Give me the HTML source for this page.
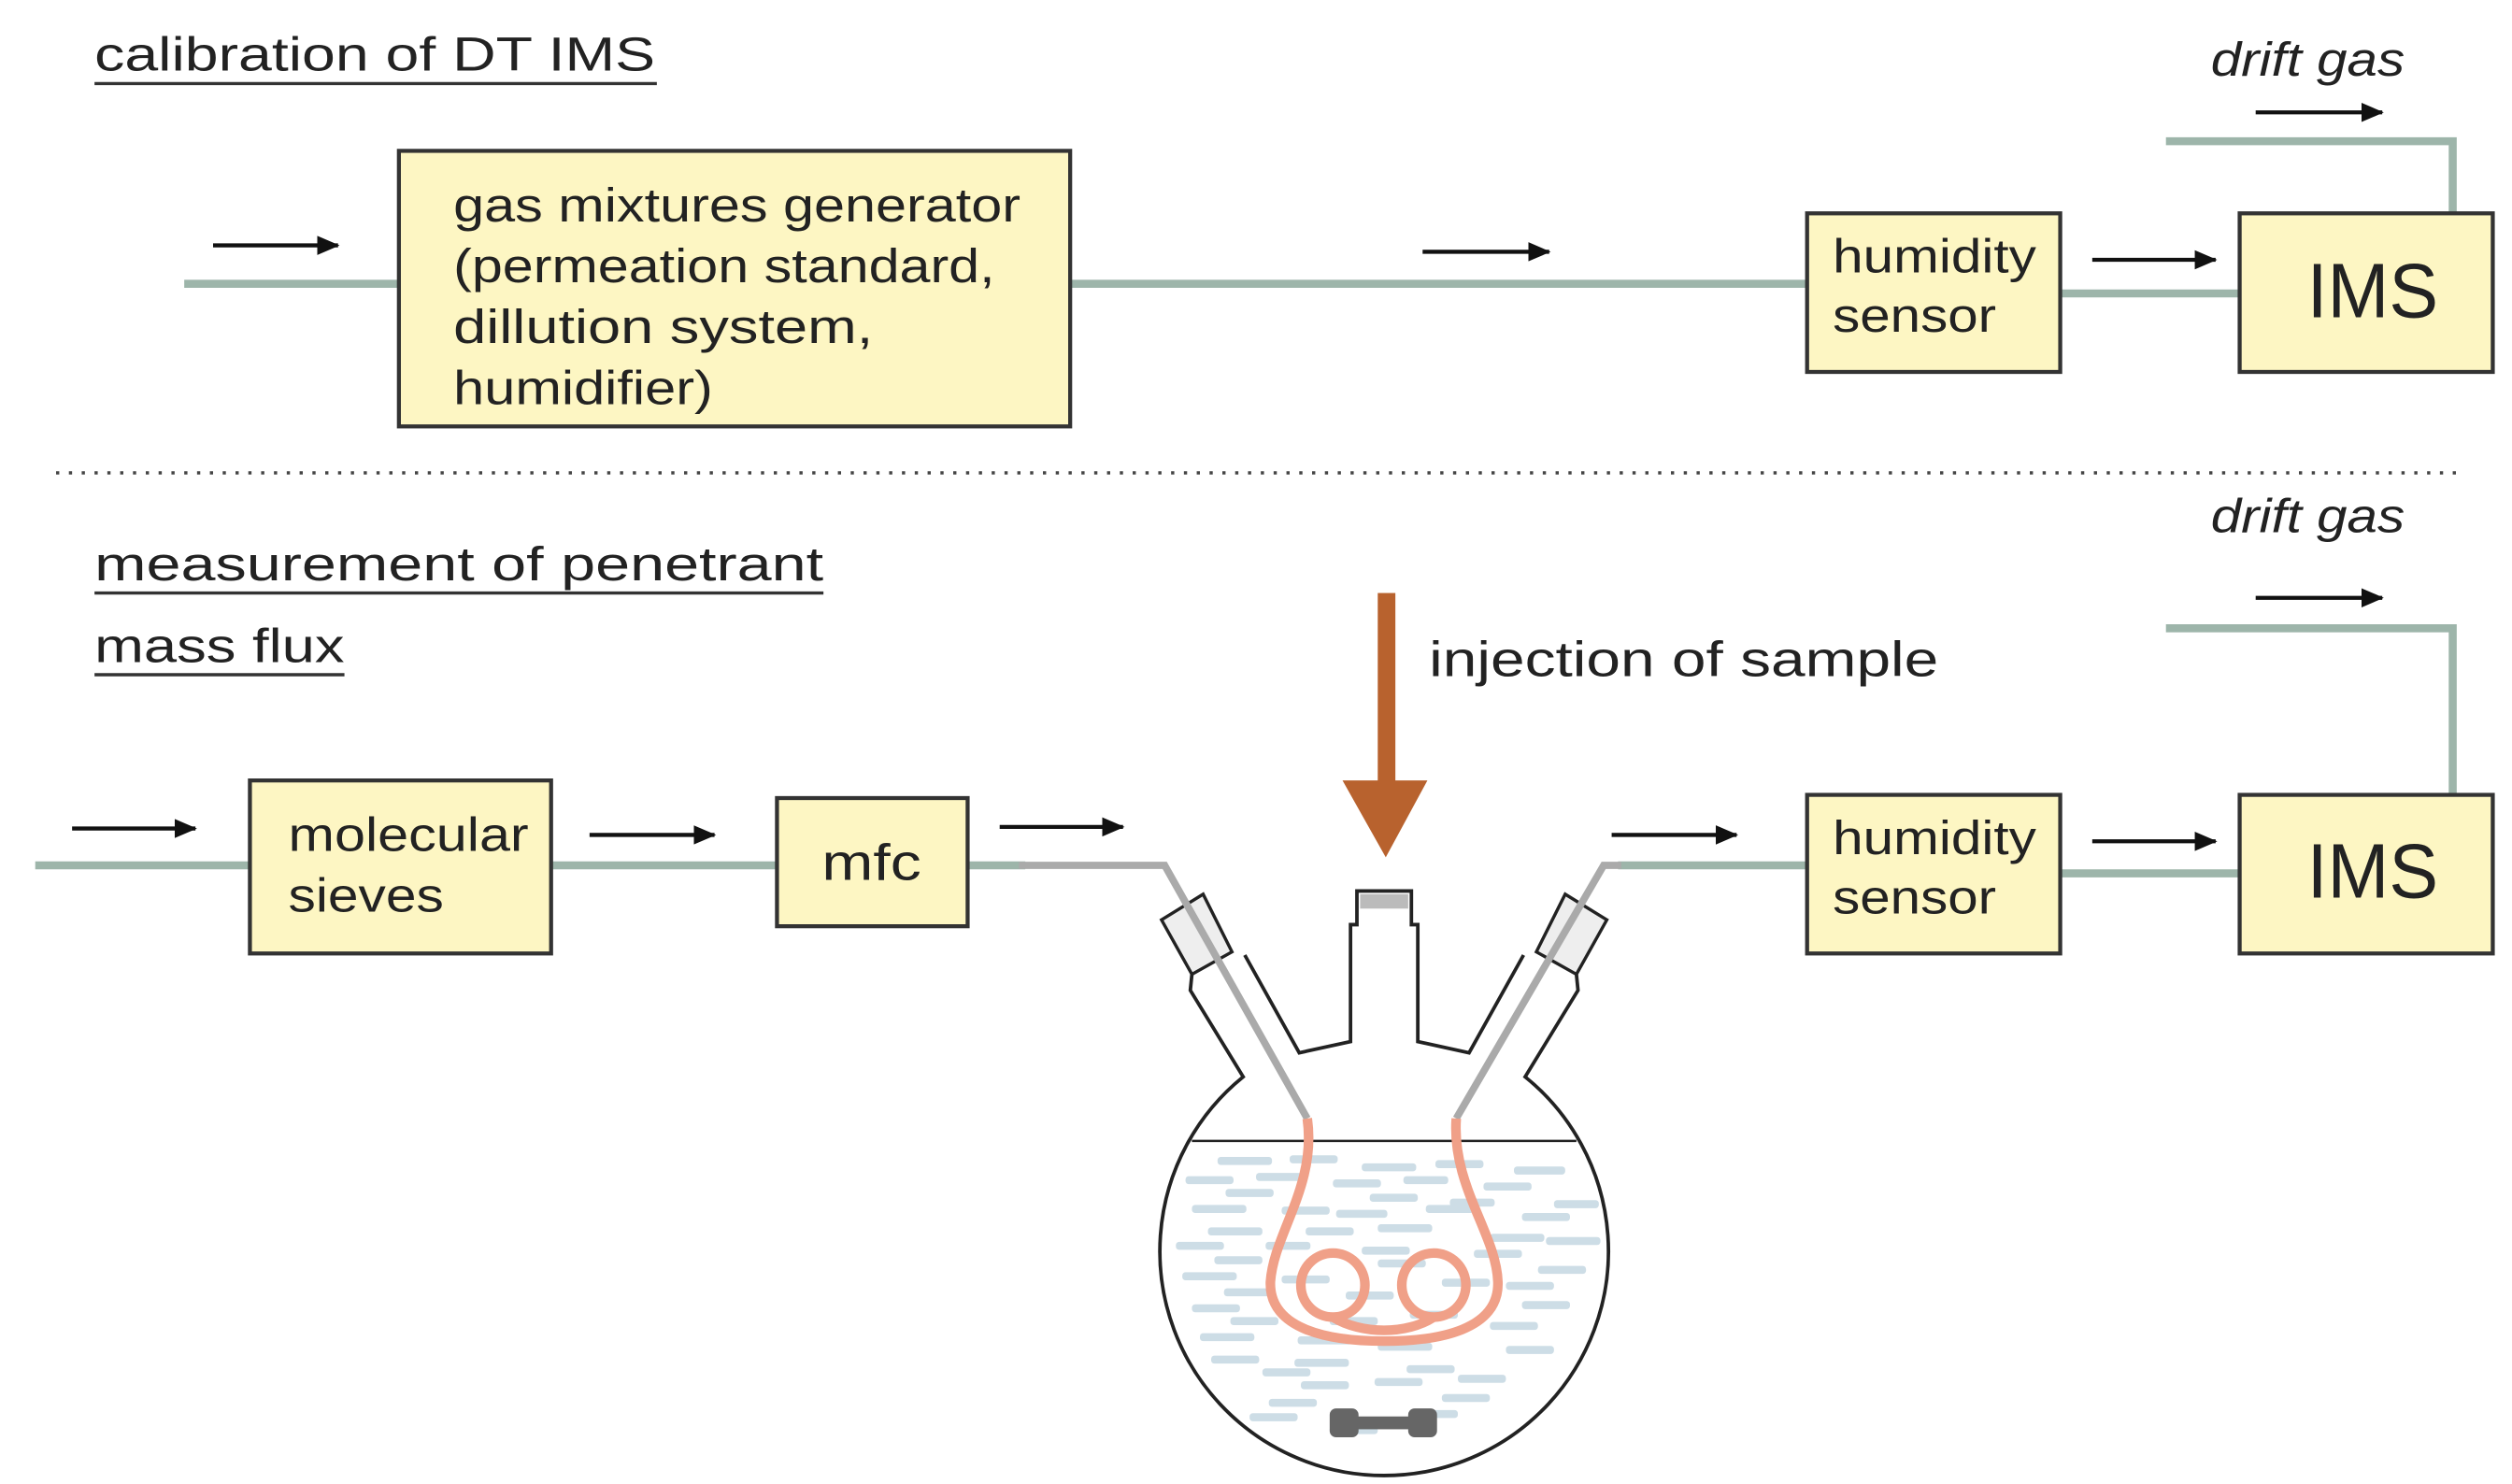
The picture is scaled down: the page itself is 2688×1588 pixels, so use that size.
<!DOCTYPE html>
<html><head><meta charset="utf-8"><style>html,body{margin:0;padding:0;background:#fff}svg{display:block}</style></head>
<body>
<svg width="2688" height="1588" viewBox="0 0 1568 926" xmlns="http://www.w3.org/2000/svg" font-family="Liberation Sans, Arial, sans-serif">
<defs>
<marker id="ah" markerWidth="14" markerHeight="14" refX="13" refY="7" orient="auto" markerUnits="userSpaceOnUse"><path d="M0,1 L14,7 L0,13 z" fill="#111"/></marker>
<clipPath id="liq"><rect x="700" y="714" width="330" height="220"/></clipPath>
<clipPath id="circ"><circle cx="864" cy="781" r="138"/></clipPath>
</defs>
<g fill="#222" font-size="30">
<text x="59" y="44" textLength="350" lengthAdjust="spacingAndGlyphs">calibration of DT IMS</text>
<text x="59" y="362" textLength="455" lengthAdjust="spacingAndGlyphs">measurement of penetrant</text>
<text x="59" y="413" textLength="156" lengthAdjust="spacingAndGlyphs">mass flux</text>
</g>
<g stroke="#333" stroke-width="2">
<line x1="59" y1="52" x2="410" y2="52"/>
<line x1="59" y1="370" x2="514" y2="370"/>
<line x1="59" y1="421" x2="215" y2="421"/>
</g>
<line x1="35" y1="295" x2="1535" y2="295" stroke="#444" stroke-width="2" stroke-dasharray="2,6"/>
<g stroke="#9db5aa" stroke-width="5" fill="none">
<line x1="115" y1="177" x2="1128" y2="177"/>
<line x1="1286" y1="183" x2="1398" y2="183"/>
<polyline points="1352,88 1531,88 1531,133"/>
<line x1="22" y1="540" x2="485" y2="540"/>
<line x1="604" y1="540" x2="640" y2="540"/>
<line x1="1010" y1="540" x2="1128" y2="540"/>
<line x1="1286" y1="545" x2="1398" y2="545"/>
<polyline points="1352,392 1531,392 1531,496"/>
</g>
<g fill="#fdf6c3" stroke="#333" stroke-width="2.5">
<rect x="249" y="94" width="419" height="172"/>
<rect x="1128" y="133" width="158" height="99"/>
<rect x="1398" y="133" width="158" height="99"/>
<rect x="156" y="487" width="188" height="108"/>
<rect x="485" y="498" width="119" height="80"/>
<rect x="1128" y="496" width="158" height="99"/>
<rect x="1398" y="496" width="158" height="99"/>
</g>
<g fill="#222" font-size="30">
<text x="283" y="138" textLength="354" lengthAdjust="spacingAndGlyphs">gas mixtures generator</text>
<text x="283" y="176" textLength="338" lengthAdjust="spacingAndGlyphs">(permeation standard,</text>
<text x="283" y="214" textLength="262" lengthAdjust="spacingAndGlyphs">dillution system,</text>
<text x="283" y="252" textLength="162" lengthAdjust="spacingAndGlyphs">humidifier)</text>
<text x="1144" y="170" textLength="127" lengthAdjust="spacingAndGlyphs">humidity</text>
<text x="1144" y="207" textLength="102" lengthAdjust="spacingAndGlyphs">sensor</text>
<text x="1144" y="533" textLength="127" lengthAdjust="spacingAndGlyphs">humidity</text>
<text x="1144" y="570" textLength="102" lengthAdjust="spacingAndGlyphs">sensor</text>
<text x="180" y="531" textLength="150" lengthAdjust="spacingAndGlyphs">molecular</text>
<text x="180" y="569" textLength="97" lengthAdjust="spacingAndGlyphs">sieves</text>
<text x="513" y="549" font-size="32" textLength="62" lengthAdjust="spacingAndGlyphs">mfc</text>
<text x="1440" y="198" font-size="48" textLength="82" lengthAdjust="spacingAndGlyphs">IMS</text>
<text x="1440" y="560" font-size="48" textLength="82" lengthAdjust="spacingAndGlyphs">IMS</text>
<text x="1380" y="47" font-style="italic" textLength="121" lengthAdjust="spacingAndGlyphs">drift gas</text>
<text x="1380" y="332" font-style="italic" textLength="121" lengthAdjust="spacingAndGlyphs">drift gas</text>
<text x="892" y="422" font-size="31" textLength="318" lengthAdjust="spacingAndGlyphs">injection of sample</text>
</g>
<g stroke="#111" stroke-width="2.5" marker-end="url(#ah)">
<line x1="133" y1="153" x2="211" y2="153"/>
<line x1="888" y1="157" x2="967" y2="157"/>
<line x1="1306" y1="162" x2="1383" y2="162"/>
<line x1="1408" y1="70" x2="1487" y2="70"/>
<line x1="45" y1="517" x2="122" y2="517"/>
<line x1="368" y1="521" x2="446" y2="521"/>
<line x1="624" y1="516" x2="701" y2="516"/>
<line x1="1006" y1="521" x2="1084" y2="521"/>
<line x1="1306" y1="525" x2="1383" y2="525"/>
<line x1="1408" y1="373" x2="1487" y2="373"/>
</g>
<rect x="860" y="370" width="11" height="120" fill="#b8622e"/>
<polygon points="838,487 891,487 865,535" fill="#b8622e"/>
<line x1="744" y1="712" x2="984" y2="712" stroke="#222" stroke-width="1.5"/>
<g clip-path="url(#circ)"><g clip-path="url(#liq)"><g fill="#cddde6" transform="translate(0,10)">
<rect x="760" y="712" width="34" height="5" rx="2"/><rect x="805" y="711" width="30" height="5" rx="2"/><rect x="850" y="716" width="34" height="5" rx="2"/><rect x="896" y="714" width="30" height="5" rx="2"/><rect x="945" y="718" width="32" height="5" rx="2"/>
<rect x="740" y="724" width="30" height="5" rx="2"/><rect x="784" y="722" width="30" height="5" rx="2"/><rect x="832" y="726" width="30" height="5" rx="2"/><rect x="876" y="724" width="28" height="5" rx="2"/><rect x="926" y="728" width="30" height="5" rx="2"/><rect x="970" y="739" width="28" height="5" rx="2"/>
<rect x="765" y="732" width="30" height="5" rx="2"/><rect x="855" y="735" width="30" height="5" rx="2"/><rect x="905" y="738" width="28" height="5" rx="2"/>
<rect x="744" y="742" width="34" height="5" rx="2"/><rect x="800" y="743" width="30" height="5" rx="2"/><rect x="834" y="745" width="32" height="5" rx="2"/><rect x="890" y="742" width="30" height="5" rx="2"/><rect x="950" y="747" width="30" height="5" rx="2"/>
<rect x="754" y="756" width="34" height="5" rx="2"/><rect x="815" y="756" width="30" height="5" rx="2"/><rect x="860" y="754" width="34" height="5" rx="2"/><rect x="930" y="760" width="34" height="5" rx="2"/><rect x="965" y="762" width="34" height="5" rx="2"/>
<rect x="734" y="765" width="30" height="5" rx="2"/><rect x="790" y="765" width="28" height="5" rx="2"/><rect x="850" y="768" width="30" height="5" rx="2"/><rect x="920" y="770" width="30" height="5" rx="2"/>
<rect x="758" y="774" width="30" height="5" rx="2"/><rect x="860" y="776" width="30" height="5" rx="2"/><rect x="960" y="780" width="30" height="5" rx="2"/>
<rect x="738" y="784" width="34" height="5" rx="2"/><rect x="800" y="786" width="30" height="5" rx="2"/><rect x="900" y="788" width="30" height="5" rx="2"/><rect x="940" y="790" width="30" height="5" rx="2"/>
<rect x="764" y="794" width="30" height="5" rx="2"/><rect x="840" y="796" width="30" height="5" rx="2"/><rect x="950" y="802" width="30" height="5" rx="2"/>
<rect x="744" y="804" width="30" height="5" rx="2"/><rect x="880" y="808" width="30" height="5" rx="2"/>
<rect x="768" y="812" width="30" height="5" rx="2"/><rect x="830" y="812" width="30" height="5" rx="2"/><rect x="930" y="815" width="30" height="5" rx="2"/>
<rect x="749" y="822" width="34" height="5" rx="2"/><rect x="810" y="824" width="34" height="5" rx="2"/><rect x="860" y="828" width="34" height="5" rx="2"/><rect x="940" y="830" width="30" height="5" rx="2"/>
<rect x="756" y="836" width="30" height="5" rx="2"/><rect x="808" y="838" width="34" height="5" rx="2"/><rect x="878" y="842" width="30" height="5" rx="2"/><rect x="910" y="848" width="30" height="5" rx="2"/>
<rect x="788" y="844" width="30" height="5" rx="2"/><rect x="812" y="852" width="30" height="5" rx="2"/><rect x="858" y="850" width="30" height="5" rx="2"/>
<rect x="792" y="863" width="30" height="5" rx="2"/><rect x="900" y="860" width="30" height="5" rx="2"/><rect x="830" y="880" width="30" height="5" rx="2"/><rect x="780" y="872" width="30" height="5" rx="2"/><rect x="880" y="870" width="30" height="5" rx="2"/>
</g></g></g>
<g fill="none" stroke="#222" stroke-width="2.2">
<path d="M744,608 L743,618 L776,672 A140,140 0 1 0 952,672 L985,618 L984,608"/>
<path d="M777,596 L811,657 L843,650 L843,577 L847,577 L847,556 L881,556 L881,577 L885,577 L885,650 L917,657 L951,596"/>
</g>
<rect x="849" y="558" width="30" height="9" fill="#bbb"/>
<g fill="#eee" stroke="#222" stroke-width="2">
<polygon points="725,574 751,558 769,594 744,608"/>
<polygon points="1003,574 977,558 959,594 984,608"/>
</g>
<g stroke="#aaa" stroke-width="4.5" fill="none">
<polyline points="636,540 727,540 816,698"/>
<polyline points="1012,540 1001,540 909,698"/>
</g>
<g fill="none" stroke="#f0a088" stroke-width="6">
<path d="M816,698 C822,740 795,770 793,800 C792,830 830,837 864,837 C898,837 936,830 935,800 C934,770 906,740 909,698"/>
<circle cx="832" cy="802" r="20"/>
<circle cx="895" cy="802" r="20"/>
<path d="M832,822 C850,833 878,833 895,822"/>
</g>
<g fill="#666">
<rect x="830" y="879" width="18" height="18" rx="4"/>
<rect x="879" y="879" width="18" height="18" rx="4"/>
<rect x="845" y="884" width="37" height="8"/>
</g>
</svg>
</body></html>
